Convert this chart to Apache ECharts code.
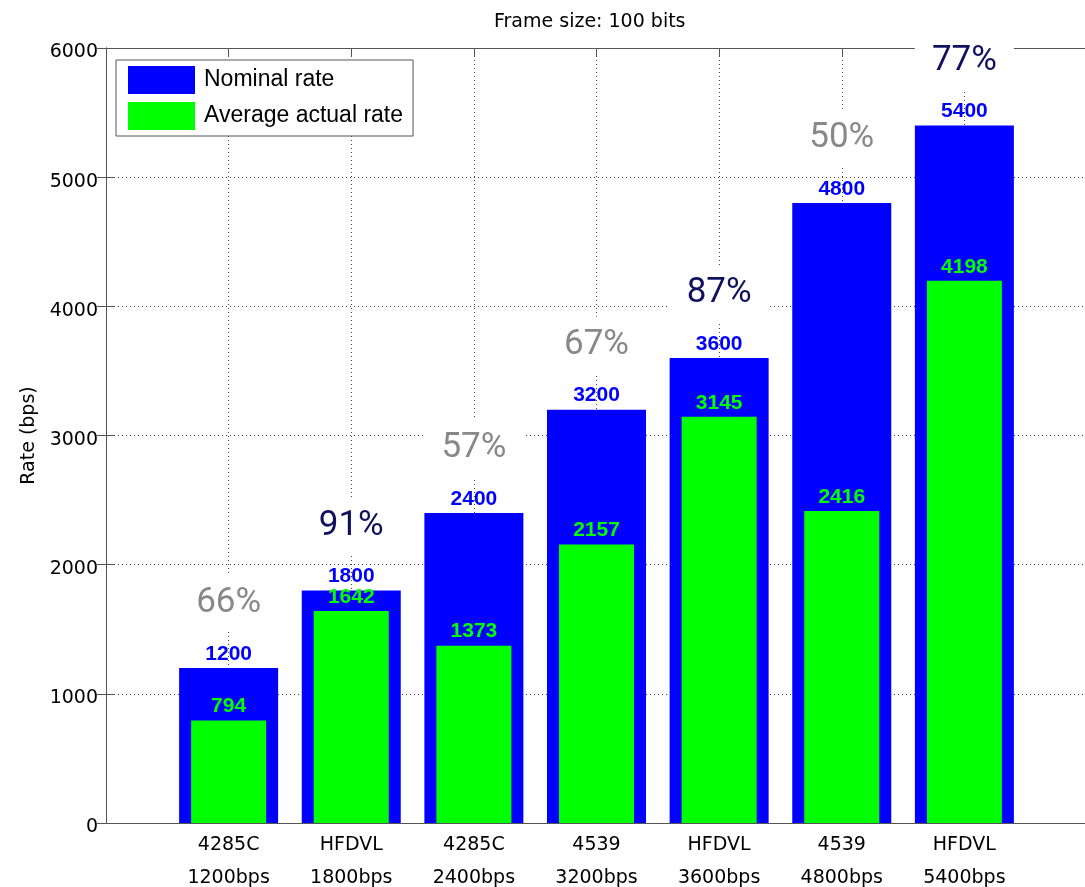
<!DOCTYPE html>
<html>
<head>
<meta charset="utf-8">
<script src="https://cdn.jsdelivr.net/npm/echarts@6/dist/echarts.min.js"></script>
<style>
html,body{margin:0;padding:0;background:#fff;}
#main{width:1085px;height:887px;}
</style>
</head>
<body>
<div id="main"></div>
<script>
const modems = ['4285C', 'HFDVL', '4285C', '4539', 'HFDVL', '4539', 'HFDVL'];
const rateLabels = ['1200bps', '1800bps', '2400bps', '3200bps', '3600bps', '4800bps', '5400bps'];
const nominalRate = [1200, 1800, 2400, 3200, 3600, 4800, 5400];
const actualRate = [794, 1642, 1373, 2157, 3145, 2416, 4198];
const efficiency = ['66%', '91%', '57%', '67%', '87%', '50%', '77%'];
const yTicks = [0, 1000, 2000, 3000, 4000, 5000, 6000];

const chart = echarts.init(document.getElementById('main'));
const axisFont = 'DejaVu Sans';
const dotted = { color: '#444', width: 1, type: [1, 3] };
const axisLineStyle = { color: '#555', width: 1 };

function xAxisBase(pos, show) {
  return {
    type: 'value', position: pos, min: 0, max: modems.length + 1, interval: 1,
    axisLine: { show: true, onZero: false, lineStyle: axisLineStyle },
    axisTick: { show: true, inside: true, length: 9, lineStyle: axisLineStyle },
    splitLine: { show: show, lineStyle: dotted },
    axisLabel: {
      show: show, margin: 6, fontFamily: axisFont, fontSize: 19, color: '#000', lineHeight: 33,
      formatter: function (v) {
        const i = Math.round(v) - 1;
        return (i >= 0 && i < modems.length) ? modems[i] + '\n' + rateLabels[i] : '';
      }
    }
  };
}

function yAxisBase(pos, show) {
  return {
    type: 'value', position: pos, min: yTicks[0], max: yTicks[yTicks.length - 1], interval: 1000,
    axisLine: { show: true, lineStyle: axisLineStyle },
    axisTick: { show: true, inside: true, length: 9, lineStyle: axisLineStyle },
    splitLine: { show: show, lineStyle: dotted },
    axisLabel: {
      show: show, margin: 8, fontFamily: axisFont, fontSize: 19, color: '#000',
      formatter: function (v) { return '{t|' + v + '}'; },
      rich: { t: { fontFamily: axisFont, fontSize: 19, color: '#000', padding: [9, 0, 0, 0] } }
    },
    name: show ? 'Rate (bps)' : '',
    nameLocation: 'middle', nameGap: 66,
    nameTextStyle: { fontFamily: axisFont, fontSize: 19, color: '#000' }
  };
}

const option = {
  animation: false,
  backgroundColor: '#fff',
  title: {
    text: 'Frame size: 100 bits', left: 489, top: 8,
    textStyle: { fontFamily: axisFont, fontSize: 19, fontWeight: 'normal', color: '#000' }
  },
  legend: {
    orient: 'vertical', left: 116, top: 60, selectedMode: false,
    backgroundColor: '#fff', borderColor: '#555', borderWidth: 1,
    padding: [6, 10, 6, 12], itemWidth: 67, itemHeight: 28, itemGap: 8,
    icon: 'rect',
    textStyle: { fontFamily: 'Liberation Sans', fontSize: 23, color: '#000', padding: [0, 0, 0, 4] },
    data: ['Nominal rate', 'Average actual rate']
  },
  grid: { left: 106, top: 48, width: 981, height: 775, containLabel: false, outerBoundsMode: 'none' },
  xAxis: [xAxisBase('bottom', true), xAxisBase('top', false)],
  yAxis: [yAxisBase('left', true), yAxisBase('right', false)],
  series: [
    {
      name: 'Nominal rate', type: 'bar', xAxisIndex: 0, yAxisIndex: 0, barWidth: 99,
      itemStyle: { color: '#0000ff' },
      data: nominalRate.map((v, i) => [i + 1, v]),
      label: {
        show: true, position: 'top', distance: 0, offset: [0, 8],
        formatter: function (p) {
          const i = p.dataIndex;
          const tag = modems[i] === 'HFDVL' ? 'pn' : 'pg';
          return '{' + tag + '|' + efficiency[i] + '}\n{v|' + nominalRate[i] + '}';
        },
        rich: {
          pg: { color: '#888888', fontSize: 35, fontFamily: 'Liberation Sans Narrow, Roboto, sans-serif',
                backgroundColor: '#fff', width: 99, height: 57, lineHeight: 57, align: 'center' },
          pn: { color: '#10105e', fontSize: 35, fontFamily: 'Liberation Sans Narrow, Roboto, sans-serif',
                backgroundColor: '#fff', width: 99, height: 57, lineHeight: 57, align: 'center' },
          v: { color: '#0000ff', fontSize: 21, fontWeight: 'bold', fontFamily: 'Liberation Sans',
               lineHeight: 44, align: 'center' }
        }
      }
    },
    {
      name: 'Average actual rate', type: 'bar', xAxisIndex: 1, yAxisIndex: 0, barWidth: 75,
      itemStyle: { color: '#00ff00' },
      data: actualRate.map((v, i) => [i + 1, v]),
      label: {
        show: true, position: 'top', distance: 4,
        color: '#00ff00', fontSize: 21, fontWeight: 'bold', fontFamily: 'Liberation Sans', lineHeight: 20
      }
    }
  ]
};
chart.setOption(option);
</script>
</body>
</html>
